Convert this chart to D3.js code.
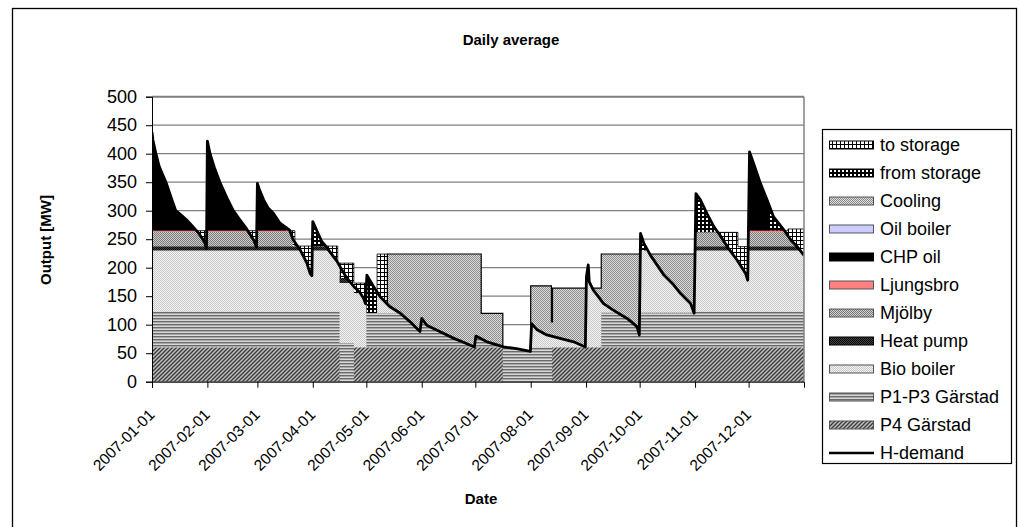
<!DOCTYPE html>
<html><head><meta charset="utf-8">
<script src="https://cdn.jsdelivr.net/npm/d3@7"></script>
<style>body{margin:0;background:#fff}svg{display:block}text{font-family:"Liberation Sans",Arial,sans-serif;fill:#000}</style>
</head><body><svg id="c" width="1020" height="527"></svg>
<script>
// ---- data (day offset from 2007-01-01, MW) ----
const demandData = [
 [0,438],[0.5,424],[2.2,400],[4,378],[7.8,350],[10.5,325],[13.3,300],[16,293],[19,285],[22,275],[24,268],[26,261],[28,252],[29.5,244],[30.5,234],
 [31,422],[32.5,400],[35,375],[38,350],[42,322],[45.5,300],[49,285],[53,268],[55,258],[57,248],[58.5,236],
 [59,348],[60,338],[62.5,319],[65,305],[68,295],[71.7,278],[77,266],[79,249],[83,231],[86.7,208],[88.5,190],[89.5,186],
 [90,281],[93,260],[95,246],[97.5,237],[100,226],[103.4,212],[106,198],[109,182],[112.7,168],[116.5,156],[118.5,146],[119.5,137],
 [120.3,187],[124,167],[127.7,149],[133,132],[139,120],[144.5,105],[150,88],
 [151,111],[153.8,99],[161,88],[169,76],[176,67],[180.5,61],
 [181.3,80],[187.5,70],[196.8,61],[204,58],[211.8,53],
 [212.5,102],[215.6,91],[221,82],[228.5,76],[236,70],[242.6,61],
 [243.2,184],[244.2,205],[244.8,175],[247,161],[252.8,137],[258,126],[266,111],[271.5,96.5],[272.8,82],
 [273.5,260],[275.3,243],[279,222],[282.7,205],[286.6,187],[292,170],[295.8,155],[301.5,137],[303.5,120],
 [304.5,330],[307,319],[310.7,295],[314.5,272],[318,257],[322,237],[327.6,213],[332.3,190],[333.5,178],
 [334.5,403],[336.8,383],[340.6,348],[344.3,319],[348,289],[353.8,266],[357.5,249],[361.2,237],[364.9,222]
];
// cumulative tops of each layer (step after: [startDay, MW])
const p4Top        = [[0,60],[105,0],[113,60],[196.4,0],[224,60],[365,60]];
const p13Top       = [[0,123],[105,68],[113,60],[120,120],[196.4,61],[224,60],[251.5,121],[304,123],[365,123]];
const bioTop       = [[0,230],[105,173],[113,155],[120,120],[126,230],[196.4,61],[212,230],[365,230]];
const heatPumpTop  = [[0,237],[105,182],[113,0],[304,237],[365,237]];
const mjolbyTop    = [[0,263],[79,0],[304,262],[328,0],[334,262],[365,262]];
const ljungsbroTop = [[0,265],[78,0],[334,265],[356,0],[365,0]];
const coolingTop   = [[0,0],[131.8,224],[184.3,120],[196.4,0],[212,168],[223.6,105],[224.2,164],[251.5,224],[304,0],[365,0]];
const toStorageTop = [[0,265],[80,238],[104,208],[113,173],[120,0],[126,224],[131.8,0],[304,262],[328,237],[334,265],[356,268],[365,268]];
const chpPeriods   = [[0,24],[31,53],[59,75],[334,346]];
const yTicks = [0,50,100,150,200,250,300,350,400,450,500];
const monthTicks = ["2007-01-01","2007-02-01","2007-03-01","2007-04-01","2007-05-01","2007-06-01","2007-07-01","2007-08-01","2007-09-01","2007-10-01","2007-11-01","2007-12-01"];
const legendNames = ["to storage","from storage","Cooling","Oil boiler","CHP oil","Ljungsbro","Mjölby","Heat pump","Bio boiler","P1-P3 Gärstad","P4 Gärstad","H-demand"];

// ---- drawing ----
const svg = d3.select("#c");
const t0 = Date.UTC(2007,0,1);
const day = d => new Date(t0 + d*864e5);
const x = d3.scaleUtc().domain([day(0), day(365)]).range([152, 804]);
const y = d3.scaleLinear().domain([0,500]).range([381.7, 96.7]);
const X = d => x(day(d));

const defs = svg.append("defs");
function pattern(id, w, h, bg, draw){
  const p = defs.append("pattern").attr("id",id).attr("patternUnits","userSpaceOnUse").attr("width",w).attr("height",h);
  p.append("rect").attr("width",w).attr("height",h).attr("fill",bg);
  draw(p); return "url(#"+id+")";
}
const px = (p,xx,yy,c,w=1,h=1)=>p.append("rect").attr("x",xx).attr("y",yy).attr("width",w).attr("height",h).attr("fill",c);
const fills = {};
fills["to storage"] = pattern("pTo",4,4,"#fff",p=>{px(p,0,0,"#000",4,1);px(p,0,0,"#000",1,4);});
fills["from storage"] = pattern("pFrom",4,4,"#000",p=>{px(p,2,2,"#fff",2,2);});
fills["Cooling"] = pattern("pCool",2,2,"#dcdcdc",p=>{px(p,0,0,"#8c8c8c");px(p,1,1,"#8c8c8c");});
fills["Oil boiler"] = "#ccccff";
fills["CHP oil"] = "#000";
fills["Ljungsbro"] = "#ff8080";
fills["Mjölby"] = pattern("pMj",2,2,"#d0d0d0",p=>{px(p,0,0,"#777");px(p,1,1,"#777");});
fills["Heat pump"] = pattern("pHp",2,2,"#444",p=>{px(p,0,0,"#0a0a0a");px(p,1,1,"#0a0a0a");});
fills["Bio boiler"] = pattern("pBio",2,2,"#f4f4f4",p=>{px(p,0,0,"#c8c8c8");px(p,1,1,"#c8c8c8");});
fills["P1-P3 Gärstad"] = pattern("pP13",3,3,"#d8d8d8",p=>{px(p,0,0,"#6a6a6a",3,1);px(p,0,1,"#a8a8a8",3,1);});
fills["P4 Gärstad"] = pattern("pP4",4,4,"#bdbdbd",p=>{p.append("path").attr("d","M0,4L4,0M-1,1L1,-1M3,5L5,3").attr("stroke","#3a3a3a").attr("stroke-width",1.3);});

// clip paths
defs.append("clipPath").attr("id","plotClip").append("rect").attr("x",152).attr("y",96).attr("width",652).attr("height",286);
const demandArea = d3.area().x(d=>X(d[0])).y0(y(0)).y1(d=>y(d[1]));
defs.append("clipPath").attr("id","underDemand").append("path").attr("d",demandArea(demandData));
const chpClip = defs.append("clipPath").attr("id","chpClip");
chpPeriods.forEach(p=>chpClip.append("rect").attr("x",X(p[0])).attr("y",0).attr("width",X(p[1])-X(p[0])).attr("height",400));

// outer frame
svg.append("rect").attr("x",12.5).attr("y",8.5).attr("width",1004).attr("height",540).attr("fill","#fff").attr("stroke","#000").attr("stroke-width",1.3);

// gridlines
svg.append("g").selectAll("line").data(yTicks.filter(v=>v>0)).join("line")
  .attr("x1",152).attr("x2",804).attr("y1",d=>y(d)).attr("y2",d=>y(d))
  .attr("stroke","#808080").attr("stroke-width",d=>d===500?2:1.3);

const plot = svg.append("g").attr("clip-path","url(#plotClip)");
const stepArea = d3.area().curve(d3.curveStepAfter).x(d=>X(d[0])).y0(y(0)).y1(d=>y(d[1]));

plot.append("path").attr("d",demandArea(demandData)).attr("fill",fills["from storage"]);
plot.append("path").attr("d",demandArea(demandData)).attr("fill",fills["CHP oil"]).attr("clip-path","url(#chpClip)");
plot.append("path").attr("d",stepArea(toStorageTop)).attr("fill",fills["to storage"]).attr("stroke","#000").attr("stroke-width",0.8);
plot.append("path").attr("d",stepArea(coolingTop)).attr("fill",fills["Cooling"]).attr("stroke","#000").attr("stroke-width",1.2);

const disp = plot.append("g").attr("clip-path","url(#underDemand)");
[[ljungsbroTop,"Ljungsbro"],[mjolbyTop,"Mjölby"],[heatPumpTop,"Heat pump"],[bioTop,"Bio boiler"],[p13Top,"P1-P3 Gärstad"],[p4Top,"P4 Gärstad"]]
 .forEach(([data,name])=>disp.append("path").attr("d",stepArea(data)).attr("fill",fills[name]));

plot.append("path").attr("d",d3.line().x(d=>X(d[0])).y(d=>y(d[1]))(demandData))
  .attr("fill","none").attr("stroke","#000").attr("stroke-width",2.8).attr("stroke-linejoin","round");

// plot border right
svg.append("line").attr("x1",804).attr("x2",804).attr("y1",96.7).attr("y2",381.7).attr("stroke","#808080").attr("stroke-width",1.5);

// axes
const yAxis = svg.append("g").attr("transform","translate(152,0)")
  .call(d3.axisLeft(y).tickValues(yTicks).tickSize(6).tickPadding(9));
yAxis.select(".domain").attr("stroke","#000");
yAxis.selectAll("text").attr("font-size",18).attr("font-family","Liberation Sans, Arial, sans-serif");

const xAxis = svg.append("g").attr("transform","translate(0,381.7)")
  .call(d3.axisBottom(x).tickValues(monthTicks.map(s=>new Date(s+"T00:00:00Z"))).tickSize(6).tickFormat(d3.utcFormat("%Y-%m-%d")));
xAxis.selectAll("text").attr("font-size",15.5).attr("font-family","Liberation Sans, Arial, sans-serif")
  .attr("text-anchor","end").attr("dy",null).attr("y",null)
  .attr("transform","translate(3,34) rotate(-45)");

// titles
svg.append("text").attr("x",511).attr("y",45).attr("text-anchor","middle").attr("font-weight","bold").attr("font-size",15).text("Daily average");
svg.append("text").attr("transform","translate(51,240) rotate(-90)").attr("text-anchor","middle").attr("font-weight","bold").attr("font-size",15).text("Output [MW]");
svg.append("text").attr("x",481).attr("y",504).attr("text-anchor","middle").attr("font-weight","bold").attr("font-size",15).text("Date");

// legend
const lg = svg.append("g");
lg.append("rect").attr("x",822.5).attr("y",129.5).attr("width",189).attr("height",334).attr("fill","#fff").attr("stroke","#000").attr("stroke-width",1.2);
legendNames.forEach((n,i)=>{
  const cy = 145 + 28*i;
  if(n==="H-demand"){
    lg.append("line").attr("x1",829).attr("x2",874).attr("y1",cy).attr("y2",cy).attr("stroke","#000").attr("stroke-width",2.6);
  } else {
    lg.append("rect").attr("x",829.5).attr("y",cy-4).attr("width",44).attr("height",8).attr("fill",fills[n])
      .attr("stroke",["CHP oil","Heat pump","from storage","to storage"].includes(n)?"#000":"#555").attr("stroke-width",1);
  }
  lg.append("text").attr("x",880).attr("y",cy).attr("dy","0.35em").attr("font-size",18).text(n);
});
</script></body></html>
